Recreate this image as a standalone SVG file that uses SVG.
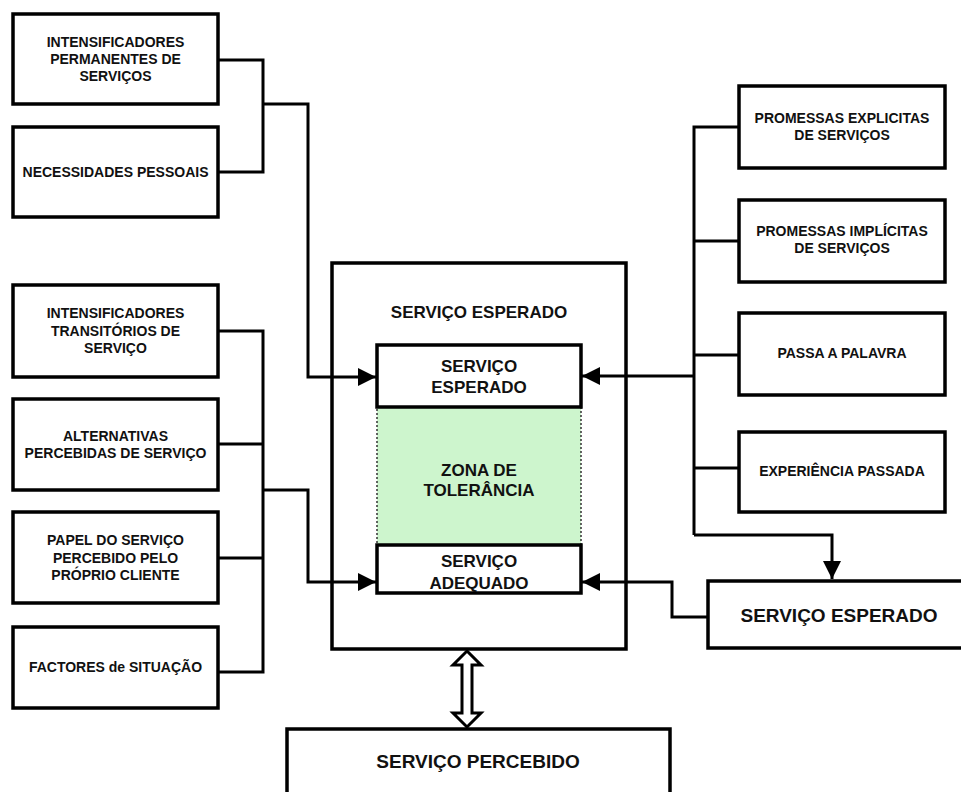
<svg xmlns="http://www.w3.org/2000/svg" width="961" height="792" viewBox="0 0 961 792">
  <defs>
    <marker id="head" viewBox="0 0 10 10" refX="10" refY="5" markerWidth="8" markerHeight="6" markerUnits="strokeWidth" orient="auto">
      <path d="M0,0 L10,5 L0,10 Z" fill="#000"/>
    </marker>
    <style>
      .box { fill: #fff; stroke: #000; stroke-width: 3.5; }
      .wire { fill: none; stroke: #000; stroke-width: 3; }
      .arrow { marker-end: url(#head); }
      text { font-family: "Liberation Sans", Arial, sans-serif; font-weight: bold; fill: #111; text-anchor: middle; }
      .s14 { font-size: 14px; }
      .s17 { font-size: 17px; }
      .s19 { font-size: 19px; }
    </style>
  </defs>
  <rect width="961" height="792" fill="#fff"/>

  <!-- left column -->
  <g id="intensificadores-permanentes">
    <rect class="box" x="13" y="14" width="205" height="90"/>
    <text class="s14" x="115.5" y="47">INTENSIFICADORES</text>
    <text class="s14" x="115.5" y="64">PERMANENTES DE</text>
    <text class="s14" x="115.5" y="81">SERVIÇOS</text>
  </g>
  <g id="necessidades-pessoais">
    <rect class="box" x="13" y="127" width="205" height="90"/>
    <text class="s14" x="115.5" y="177">NECESSIDADES PESSOAIS</text>
  </g>
  <g id="intensificadores-transitorios">
    <rect class="box" x="13" y="285" width="205" height="92"/>
    <text class="s14" x="115.5" y="318">INTENSIFICADORES</text>
    <text class="s14" x="115.5" y="336">TRANSITÓRIOS DE</text>
    <text class="s14" x="115.5" y="353">SERVIÇO</text>
  </g>
  <g id="alternativas-percebidas">
    <rect class="box" x="13" y="399" width="205" height="91"/>
    <text class="s14" x="115.5" y="441">ALTERNATIVAS</text>
    <text class="s14" x="115.5" y="458">PERCEBIDAS DE SERVIÇO</text>
  </g>
  <g id="papel-do-servico">
    <rect class="box" x="13" y="512" width="205" height="91"/>
    <text class="s14" x="115.5" y="545">PAPEL DO SERVIÇO</text>
    <text class="s14" x="115.5" y="563">PERCEBIDO PELO</text>
    <text class="s14" x="115.5" y="580">PRÓPRIO CLIENTE</text>
  </g>
  <g id="factores-situacao">
    <rect class="box" x="13" y="627" width="205" height="81"/>
    <text class="s14" x="115.5" y="672">FACTORES de SITUAÇÃO</text>
  </g>

  <!-- central block -->
  <g id="servico-esperado-bloco">
    <rect class="box" x="332" y="263" width="294" height="386" stroke-width="3"/>
    <text class="s17" x="479" y="318">SERVIÇO ESPERADO</text>
  </g>
  <g id="zona-de-tolerancia">
    <rect x="377" y="407" width="204" height="138" fill="#cdf5cd" stroke="#333" stroke-width="1.5" stroke-dasharray="2,2"/>
    <text class="s17" x="479" y="476">ZONA DE</text>
    <text class="s17" x="479" y="496">TOLERÂNCIA</text>
  </g>
  <g id="servico-esperado-interno">
    <rect class="box" x="377" y="345" width="204" height="62"/>
    <text class="s17" x="479" y="372">SERVIÇO</text>
    <text class="s17" x="479" y="393">ESPERADO</text>
  </g>
  <g id="servico-adequado">
    <rect class="box" x="377" y="545" width="204" height="48"/>
    <text class="s17" x="479" y="567">SERVIÇO</text>
    <text class="s17" x="479" y="589">ADEQUADO</text>
  </g>

  <!-- right column -->
  <g id="promessas-explicitas">
    <rect class="box" x="739" y="86" width="206" height="82"/>
    <text class="s14" x="842" y="123">PROMESSAS EXPLICITAS</text>
    <text class="s14" x="842" y="140">DE SERVIÇOS</text>
  </g>
  <g id="promessas-implicitas">
    <rect class="box" x="739" y="200" width="206" height="82"/>
    <text class="s14" x="842" y="236">PROMESSAS IMPLÍCITAS</text>
    <text class="s14" x="842" y="253">DE SERVIÇOS</text>
  </g>
  <g id="passa-a-palavra">
    <rect class="box" x="739" y="313" width="206" height="82"/>
    <text class="s14" x="842" y="358">PASSA A PALAVRA</text>
  </g>
  <g id="experiencia-passada">
    <rect class="box" x="739" y="432" width="206" height="80"/>
    <text class="s14" x="842" y="476">EXPERIÊNCIA PASSADA</text>
  </g>
  <g id="servico-esperado-previsto">
    <rect class="box" x="708" y="581" width="270" height="67"/>
    <text class="s19" x="839" y="622">SERVIÇO ESPERADO</text>
  </g>

  <!-- bottom -->
  <g id="servico-percebido">
    <rect class="box" x="287" y="729" width="383" height="80"/>
    <text class="s19" x="478" y="768">SERVIÇO PERCEBIDO</text>
  </g>

  <!-- connectors, drawn last so they cross the outer block's frame -->
  <g id="connectors">
    <!-- permanent intensifiers + personal needs to expected service -->
    <path class="wire" d="M218,60 H263 V172 H218"/>
    <path class="wire arrow" d="M263,104 H308 V377 H376"/>
    <!-- transitory factors to adequate service -->
    <path class="wire" d="M218,331 H263 V672 H218"/>
    <path class="wire" d="M218,444 H263"/>
    <path class="wire" d="M218,558 H263"/>
    <path class="wire arrow" d="M263,490 H308 V582 H376"/>
    <!-- promises / word of mouth / past experience -->
    <path class="wire" d="M739,127 H694 V535"/>
    <path class="wire" d="M739,241 H694"/>
    <path class="wire" d="M739,355 H694"/>
    <path class="wire" d="M739,468 H694"/>
    <path class="wire arrow" d="M694,376 H582"/>
    <path class="wire arrow" d="M694,535 H832 V579"/>
    <!-- predicted service to adequate service -->
    <path class="wire arrow" d="M708,617 H672 V582 H582"/>
    <!-- two-way hollow arrow -->
    <path d="M467,651 L481,665 H472 V713 H481 L467,727 L453,713 H462 V665 H453 Z" fill="#fff" stroke="#000" stroke-width="3" stroke-linejoin="miter"/>
  </g>
</svg>
